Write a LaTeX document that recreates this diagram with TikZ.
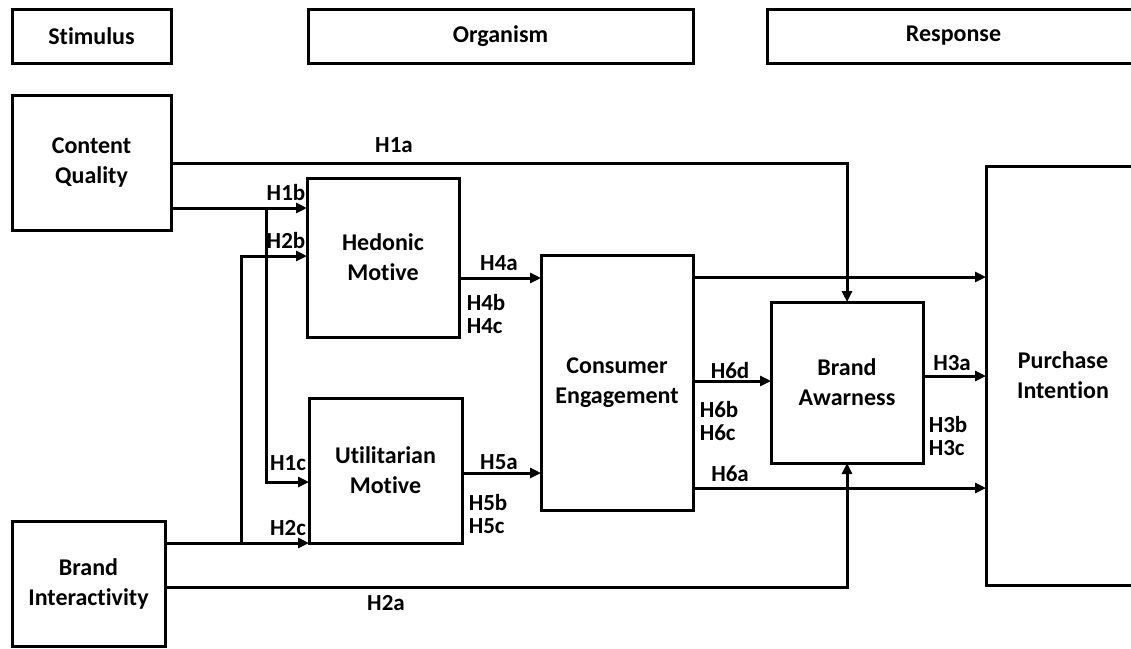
\documentclass[tikz,border=0pt]{standalone}
\usepackage{fontspec}
\setmainfont{Carlito}[Ligatures={NoCommon}]
\usetikzlibrary{arrows.meta}
\begin{document}
\begin{tikzpicture}[x=1pt,y=-1pt,
  box/.style={draw,line width=3pt,inner sep=0pt,outer sep=0pt,align=center,
    font=\fontsize{24}{30}\selectfont\bfseries},
  lab/.style={inner sep=0pt,font=\fontsize{23}{23}\selectfont\bfseries},
  arr/.style={line width=3pt,-{Triangle[length=11pt,width=10pt]}},
  ln/.style={line width=3pt}]
\useasboundingbox (0,0) rectangle (1131,648);
\clip (0,0) rectangle (1131,648);
% header boxes
\node[box,minimum width=159pt,minimum height=54pt] (stim) at (91.5,36) {Stimulus};
\node[box,minimum width=385pt,minimum height=54pt] (org) at (500.5,36) {Organism};
\node[box,minimum width=373pt,minimum height=54pt] (resp) at (953.5,36) {Response\vphantom{g}};
% construct boxes
\node[box,minimum width=159pt,minimum height=135pt] (cq) at (91.5,162.5) {Content\\Quality};
\node[box,minimum width=153pt,minimum height=125pt] (bi) at (88.5,583.5) {Brand\\Interactivity};
\node[box,minimum width=152pt,minimum height=159pt] (hed) at (383,257.5) {Hedonic\\Motive};
\node[box,minimum width=153pt,minimum height=145pt] (util) at (385.5,470.5) {Utilitarian\\Motive};
\node[box,minimum width=152pt,minimum height=255pt] (ce) at (617,382.5) {Consumer\\Engagement};
\node[box,minimum width=152pt,minimum height=161pt] (ba) at (847,382.5) {Brand\\Awarness};
\node[box,minimum width=154pt,minimum height=419pt] (pi) at (1063,375.5) {Purchase\\Intention};
% junctions
\coordinate (j1) at (266,208);
\coordinate (j2) at (241,543);
% connectors
\draw[arr] (cq.east |- 0,163) -| (ba.north);
\draw[arr] (cq.east |- 0,208) -- (hed.west |- 0,208);
\draw[arr] (j1) |- (util.west |- 0,482);
\draw[arr] (bi.east |- 0,543) -- (util.west |- 0,543);
\draw[arr] (j2) |- (hed.west |- 0,256);
\draw[arr] (bi.east |- 0,587) -| (ba.south);
\draw[arr] (hed.east |- 0,278) -- (ce.west |- 0,278);
\draw[arr] (util.east |- 0,473) -- (ce.west |- 0,473);
\draw[arr] (ce.east |- 0,277) -- (pi.west |- 0,277);
\draw[arr] (ce.east |- 0,381) -- (ba.west |- 0,381);
\draw[arr] (ce.east |- 0,488) -- (pi.west |- 0,488);
\draw[arr] (ba.east |- 0,376) -- (pi.west |- 0,376);
% labels
\node[lab] (l1a) at (394,145) {H1a};
\node[lab] (l1b) at (286,193) {H1b};
\node[lab] (l2b) at (286,241) {H2b};
\node[lab] (l1c) at (288,463) {H1c};
\node[lab] (l2c) at (288,528) {H2c};
\node[lab] (l2a) at (386,603) {H2a};
\node[lab] (l4a) at (499,263) {H4a};
\node[lab,align=left] (l4b) at (486,314) {H4b\\H4c};
\node[lab] (l5a) at (499,462) {H5a};
\node[lab,align=left] (l5b) at (488,514) {H5b\\H5c};
\node[lab] (l6d) at (730,371) {H6d};
\node[lab,align=left] (l6b) at (719,421) {H6b\\H6c};
\node[lab] (l6a) at (730,474) {H6a};
\node[lab] (l3a) at (952,363) {H3a};
\node[lab,align=left] (l3b) at (948,436) {H3b\\H3c};
\end{tikzpicture}
\end{document}
